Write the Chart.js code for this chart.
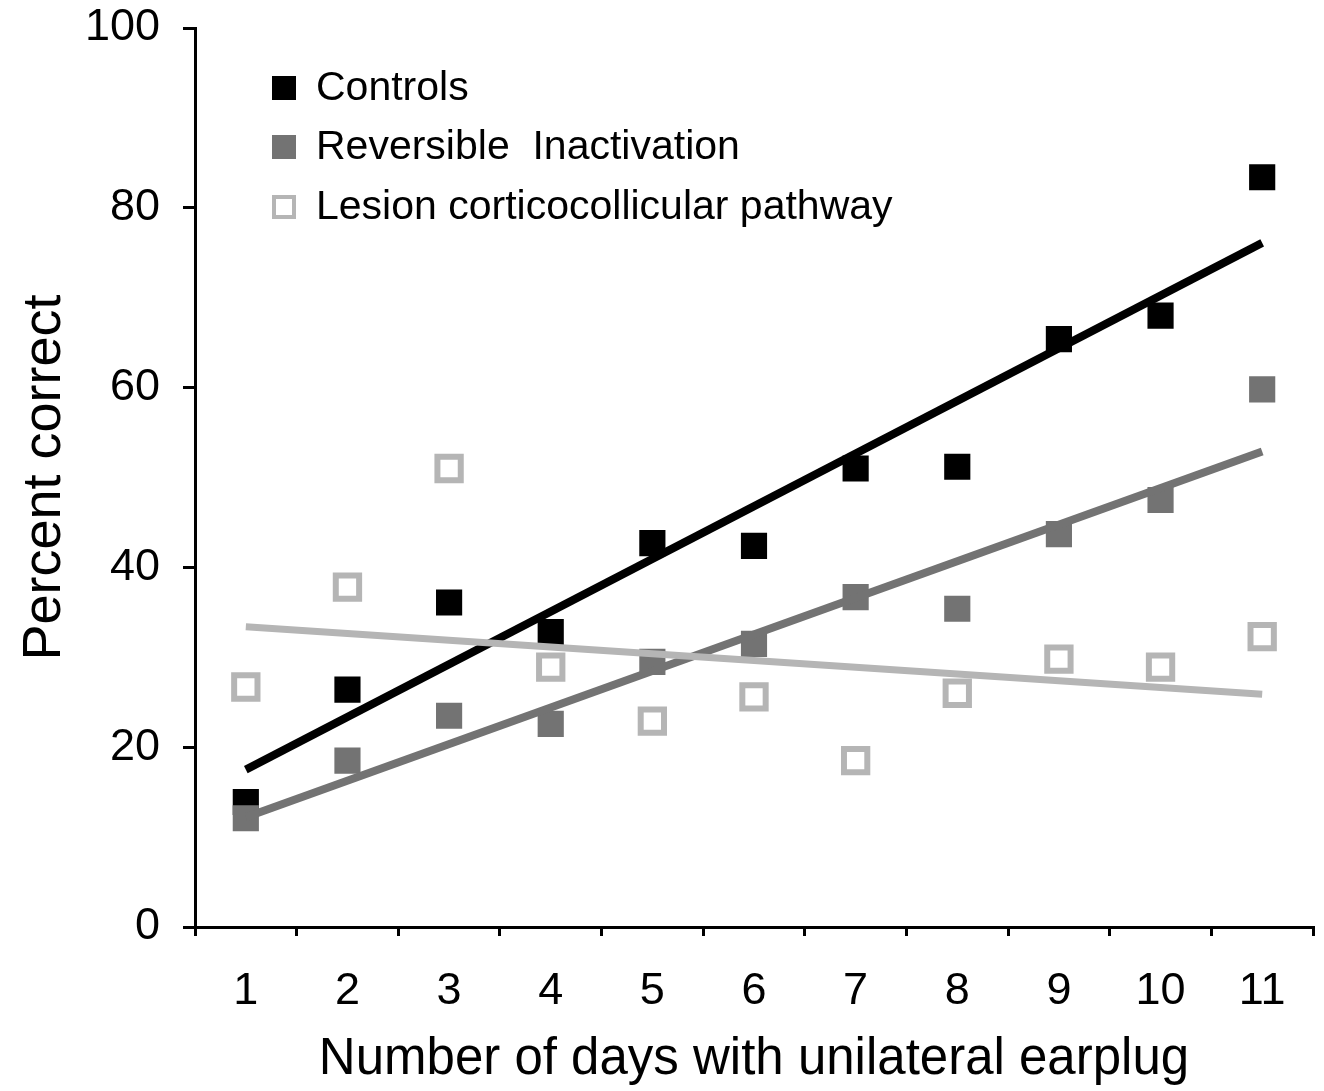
<!DOCTYPE html>
<html>
<head>
<meta charset="utf-8">
<script src="https://cdn.jsdelivr.net/npm/chart.js@4/dist/chart.umd.min.js"></script>
<style>
  html, body { margin: 0; padding: 0; background: #fff; }
  #wrap { width: 1324px; height: 1091px; position: relative; }
</style>
</head>
<body>
<div id="wrap"><canvas id="chart" width="1324" height="1091"></canvas></div>
<script>
// --- data ---
const days = ['1', '2', '3', '4', '5', '6', '7', '8', '9', '10', '11'];

const controls   = [13.9, 26.4, 36.1, 32.8, 42.7, 42.4, 51.0, 51.2, 65.4, 68.0, 83.4];
const reversible = [12.1, 18.5, 23.5, 22.6, 29.5, 31.5, 36.7, 35.4, 43.7, 47.5, 59.8];
const lesion     = [26.7, 37.8, 51.0, 28.9, 22.9, 25.6, 18.5, 26.0, 29.8, 28.9, 32.3];

// trend line end points (day 1 and day 11)
const controlsTrend   = [17.5, 76.1];
const reversibleTrend = [12.2, 52.9];
const lesionTrend     = [33.4, 25.9];

const legendLabels = ['Controls', 'Reversible  Inactivation', 'Lesion corticocollicular pathway'];

const BLACK = '#000000';
const GRAY = '#737373';
const LIGHT = '#b5b5b5';
const FONT = "'Liberation Sans', Arial, sans-serif";

// line from first to last category, gaps spanned
const trendData = (ends) => days.map((d, i) => i === 0 ? ends[0] : (i === days.length - 1 ? ends[1] : null));

const scatterSet = (label, data, fill, stroke, radius, bw) => ({
    type: 'line',
    label: label,
    data: data,
    showLine: false,
    pointStyle: 'rect',
    pointRadius: radius,
    pointBackgroundColor: fill,
    pointBorderColor: stroke,
    pointBorderWidth: bw,
    order: 10
});

const trendSet = (ends, color, width, order) => ({
    type: 'line',
    label: '',
    data: trendData(ends),
    spanGaps: true,
    borderColor: color,
    borderWidth: width,
    pointRadius: 0,
    fill: false,
    order: order
});

// legend drawn inside the plot, top left
const legendPlugin = {
    id: 'insideLegend',
    afterDraw(chart) {
        const ctx = chart.ctx;
        const rows = [88, 147, 207];
        const mx = 284, size = 24;
        ctx.save();
        ctx.font = '41px ' + FONT;
        ctx.textBaseline = 'middle';
        ctx.fillStyle = '#000';
        legendLabels.forEach((txt, i) => {
            const y = rows[i];
            if (i === 0) { ctx.fillStyle = BLACK; ctx.fillRect(mx - size / 2, y - size / 2, size, size); }
            if (i === 1) { ctx.fillStyle = GRAY; ctx.fillRect(mx - size / 2, y - size / 2, size, size); }
            if (i === 2) {
                ctx.strokeStyle = LIGHT;
                ctx.lineWidth = 4;
                ctx.strokeRect(mx - size / 2 + 2, y - size / 2 + 2, size - 4, size - 4);
            }
            ctx.fillStyle = '#000';
            ctx.fillText(txt, 316, y + 1);
        });
        ctx.restore();
    }
};

// drop the extra room Chart.js keeps for overflowing tick labels
const noOverflow = (scale) => {
    scale.paddingTop = 0;
    scale.paddingBottom = 0;
    scale.paddingLeft = 0;
    scale.paddingRight = 0;
};

new Chart(document.getElementById('chart'), {
    data: {
        labels: days,
        datasets: [
            trendSet(lesionTrend, LIGHT, 7, 1),
            trendSet(reversibleTrend, GRAY, 8, 2),
            trendSet(controlsTrend, BLACK, 8, 3),
            scatterSet(legendLabels[2], lesion, '#ffffff', LIGHT, 16.5, 6),
            scatterSet(legendLabels[1], reversible, GRAY, GRAY, 18.5, 0),
            scatterSet(legendLabels[0], controls, BLACK, BLACK, 18.5, 0)
        ]
    },
    options: {
        responsive: false,
        animation: false,
        events: [],
        layout: { autoPadding: false, padding: { left: 0, right: 11, top: 28, bottom: 0 } },
        plugins: {
            legend: { display: false },
            tooltip: { enabled: false }
        },
        scales: {
            x: {
                type: 'category',
                offset: true,
                grid: { display: true, offset: true, drawOnChartArea: false, drawTicks: true, tickLength: 9, color: '#000', lineWidth: 3 },
                border: { display: true, color: '#000', width: 3 },
                ticks: { color: '#000', font: { family: FONT, size: 45 }, padding: 29, maxRotation: 0 },
                title: {
                    display: true,
                    text: 'Number of days with unilateral earplug',
                    color: '#000',
                    font: { family: FONT, size: 51 },
                    padding: { top: 0, bottom: 0 }
                },
                afterFit: (scale) => {
                    scale.height = 164;
                    noOverflow(scale);
                }
            },
            y: {
                min: 0,
                max: 100,
                ticks: { stepSize: 20, color: '#000', font: { family: FONT, size: 45 }, padding: 23 },
                grid: { display: true, drawOnChartArea: false, drawTicks: true, tickLength: 12, color: '#000', lineWidth: 3 },
                border: { display: true, color: '#000', width: 3 },
                title: {
                    display: true,
                    text: 'Percent correct',
                    color: '#000',
                    font: { family: FONT, size: 54, lineHeight: 1 },
                    padding: { top: 18, bottom: 0 }
                },
                afterFit: (scale) => {
                    scale.width = 195;
                    noOverflow(scale);
                }
            }
        }
    },
    plugins: [legendPlugin]
});
</script>
</body>
</html>
